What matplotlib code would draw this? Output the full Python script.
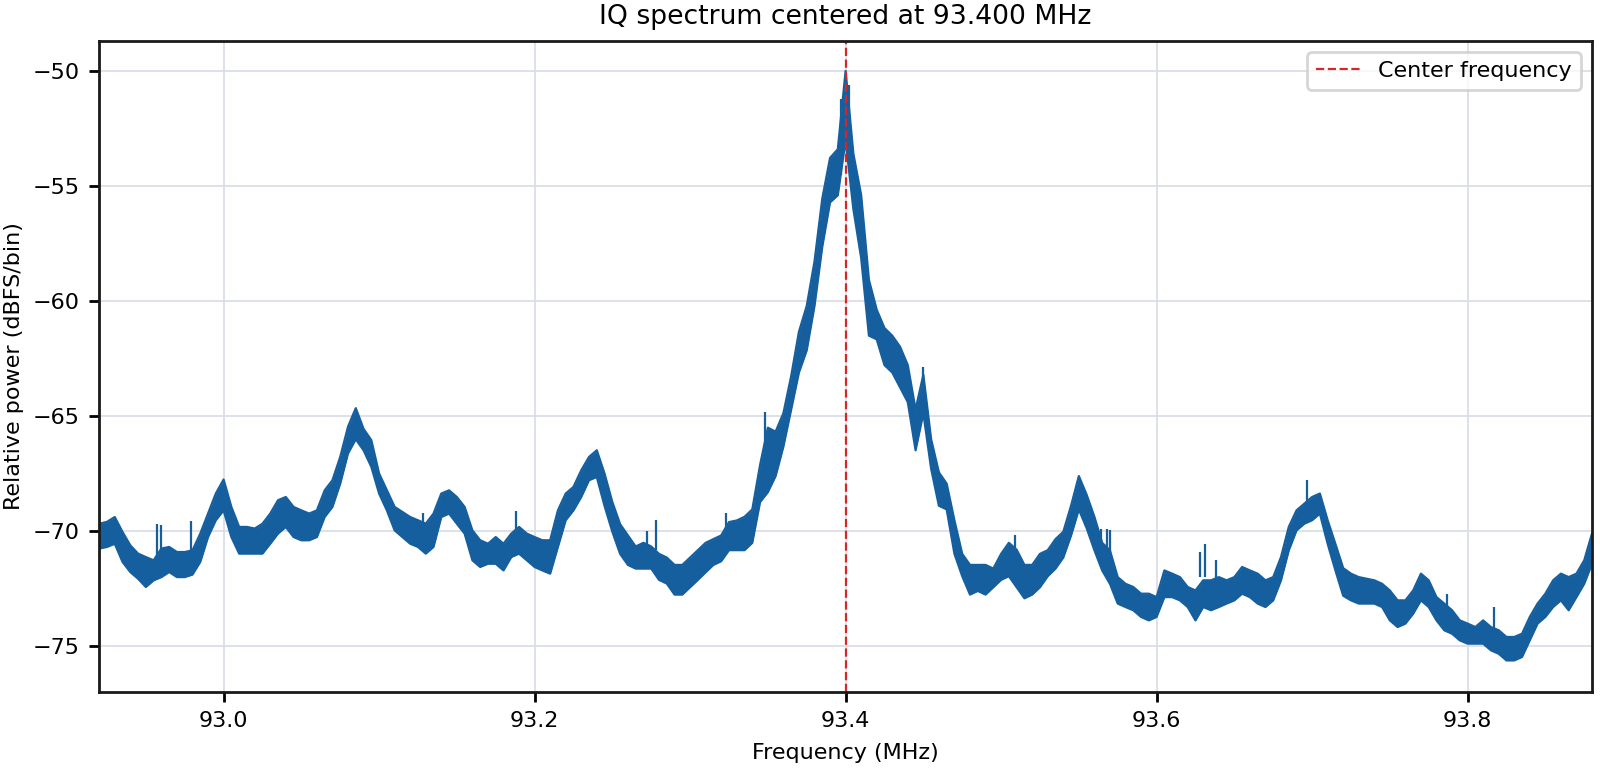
import numpy as np
import matplotlib
matplotlib.use("Agg")
import matplotlib.pyplot as plt

# spectrum, one bin every 5 kHz from 92.920 MHz
center_mhz = 93.4
bin_start_mhz = 92.920
bin_step_mhz = 0.005

power_top = [
    -69.67, -69.59, -69.38, -70.03, -70.61, -70.97, -71.12, -71.26, -70.75, -70.68,
    -70.90, -70.90, -70.83, -70.10, -69.23, -68.36, -67.75, -68.94, -69.81, -69.81,
    -69.88, -69.67, -69.23, -68.65, -68.51, -68.94, -69.09, -69.23, -69.09, -68.22,
    -67.78, -66.77, -65.46, -64.65, -65.55, -66.04, -67.49, -68.22, -68.94, -69.16,
    -69.38, -69.52, -69.67, -69.23, -68.36, -68.22, -68.51, -68.94, -69.96, -70.39,
    -70.54, -70.25, -70.54, -70.10, -69.81, -70.10, -70.25, -70.39, -70.39, -69.09,
    -68.36, -68.07, -67.35, -66.77, -66.48, -67.50, -68.73, -69.69, -70.18, -70.66,
    -70.50, -70.66, -70.98, -71.14, -71.46, -71.46, -71.14, -70.82, -70.50, -70.34,
    -70.18, -69.60, -69.53, -69.37, -69.05, -67.12, -65.50, -65.67, -64.87, -63.26,
    -61.33, -60.21, -58.28, -55.55, -53.78, -53.40, -50.00, -53.60, -55.39, -59.08,
    -60.37, -61.17, -61.50, -61.98, -62.78, -64.71, -63.20, -66.00, -67.44, -67.93,
    -69.53, -70.98, -71.46, -71.46, -71.46, -71.62, -70.98, -70.50, -70.80, -71.46,
    -71.46, -70.98, -70.82, -70.34, -70.02, -68.89, -67.60, -68.41, -69.37, -70.50,
    -70.83, -71.99, -72.28, -72.42, -72.71, -72.71, -72.86, -71.70, -71.84, -71.99,
    -72.42, -72.57, -72.13, -72.13, -71.99, -72.13, -71.99, -71.55, -71.70, -71.84,
    -72.13, -71.99, -71.12, -69.81, -69.09, -68.80, -68.51, -68.36, -69.52, -70.55,
    -71.60, -71.84, -71.99, -72.06, -72.13, -72.28, -72.57, -73.00, -73.00, -72.57,
    -71.84, -72.13, -72.86, -73.14, -73.43, -73.87, -74.01, -74.16, -73.87, -74.16,
    -74.30, -74.59, -74.59, -74.45, -73.72, -73.14, -72.71, -72.13, -71.84, -71.99,
    -71.84, -71.26, -70.10,
]

power_bottom = [
    -70.75, -70.68, -70.54, -71.33, -71.77, -72.06, -72.42, -72.13, -71.99, -71.77,
    -71.99, -71.99, -71.88, -71.33, -70.25, -69.52, -69.09, -70.25, -70.97, -70.97,
    -70.97, -70.97, -70.54, -70.10, -69.81, -70.25, -70.39, -70.39, -70.25, -69.38,
    -68.94, -67.93, -66.62, -66.00, -66.48, -67.20, -68.36, -69.09, -69.96, -70.25,
    -70.54, -70.68, -70.97, -70.68, -69.38, -69.23, -69.67, -70.10, -71.26, -71.55,
    -71.41, -71.41, -71.70, -71.12, -70.97, -71.26, -71.55, -71.70, -71.84, -70.68,
    -69.52, -69.09, -68.51, -67.78, -67.64, -68.90, -70.02, -70.98, -71.46, -71.62,
    -71.62, -71.62, -72.11, -72.27, -72.75, -72.75, -72.43, -72.11, -71.78, -71.46,
    -71.30, -70.82, -70.82, -70.82, -70.50, -68.73, -68.30, -67.60, -66.32, -64.71,
    -63.10, -62.14, -60.21, -57.64, -55.71, -55.40, -53.00, -56.00, -58.12, -61.50,
    -61.66, -62.78, -63.10, -63.75, -64.39, -66.48, -64.87, -67.28, -68.89, -69.05,
    -70.98, -71.95, -72.75, -72.59, -72.75, -72.43, -72.11, -71.95, -72.43, -72.91,
    -72.75, -72.43, -71.95, -71.62, -71.14, -70.18, -69.05, -69.86, -70.82, -71.70,
    -72.28, -73.14, -73.29, -73.43, -73.72, -73.87, -73.72, -72.86, -72.86, -73.00,
    -73.29, -73.87, -73.29, -73.43, -73.29, -73.14, -73.00, -72.71, -72.86, -73.14,
    -73.29, -73.00, -72.13, -70.83, -69.96, -69.67, -69.52, -69.23, -70.54, -71.70,
    -72.80, -73.00, -73.14, -73.14, -73.14, -73.29, -73.87, -74.16, -74.01, -73.58,
    -73.00, -73.29, -73.87, -74.30, -74.45, -74.74, -74.88, -74.88, -74.88, -75.17,
    -75.32, -75.61, -75.61, -75.46, -74.74, -74.01, -73.72, -73.29, -73.00, -73.43,
    -72.86, -72.28, -71.41,
]

# narrow single-bin spikes sticking out of the noise band
spike_freq = [92.957, 92.960, 92.979, 93.128, 93.188, 93.272, 93.278, 93.323, 93.348, 93.450,
              93.509, 93.564, 93.568, 93.570, 93.628, 93.631, 93.638, 93.697, 93.787, 93.817,
              93.397, 93.402]
spike_top = [-69.70, -69.74, -69.55, -69.19, -69.13, -70.00, -69.50, -69.20, -64.80, -62.86,
             -70.18, -69.88, -69.90, -69.95, -70.90, -70.54, -71.26, -67.78, -72.71, -73.29,
             -51.20, -50.60]
spike_base = [-71.30, -71.30, -71.00, -70.50, -70.30, -71.00, -70.80, -70.00, -66.50, -64.00,
              -71.00, -70.80, -71.00, -71.00, -72.00, -72.00, -72.20, -68.80, -73.30, -74.20,
              -54.50, -54.00]

line_color = "#155f9f"

freq = bin_start_mhz + bin_step_mhz * np.arange(len(power_top))

plt.rcParams["font.family"] = "DejaVu Sans"
plt.rcParams["font.size"] = 8

fig, ax = plt.subplots(figsize=(8, 3.84), dpi=200)
fig.subplots_adjust(left=0.062, right=0.995, top=0.9466, bottom=0.099)

ax.fill_between(freq, power_bottom, power_top, color=line_color, linewidth=0)
ax.plot(freq, power_top, color=line_color, linewidth=0.8)
ax.plot(freq, power_bottom, color=line_color, linewidth=0.8)
ax.vlines(spike_freq, spike_base, spike_top, color=line_color, linewidth=0.8)

ax.axvline(center_mhz, color="#d62728", linestyle="--", linewidth=0.8, label="Center frequency")

ax.set_xlim(92.92, 93.88)
ax.set_ylim(-76.98, -48.70)
ax.set_xticks([93.0, 93.2, 93.4, 93.6, 93.8])
ax.set_yticks([-75, -70, -65, -60, -55, -50])

ax.grid(True, color="#d9dce6", linewidth=0.6)
ax.set_axisbelow(True)
for spine in ax.spines.values():
    spine.set_linewidth(1.0)
    spine.set_color("#1a1a1a")
ax.tick_params(width=1.0, length=3.5)

ax.set_title("IQ spectrum centered at 93.400 MHz", fontsize=9.6)
ax.set_xlabel("Frequency (MHz)")
ax.set_ylabel("Relative power (dBFS/bin)", labelpad=3)
ax.legend(loc="upper right")

fig.savefig("out.png", dpi=200)
